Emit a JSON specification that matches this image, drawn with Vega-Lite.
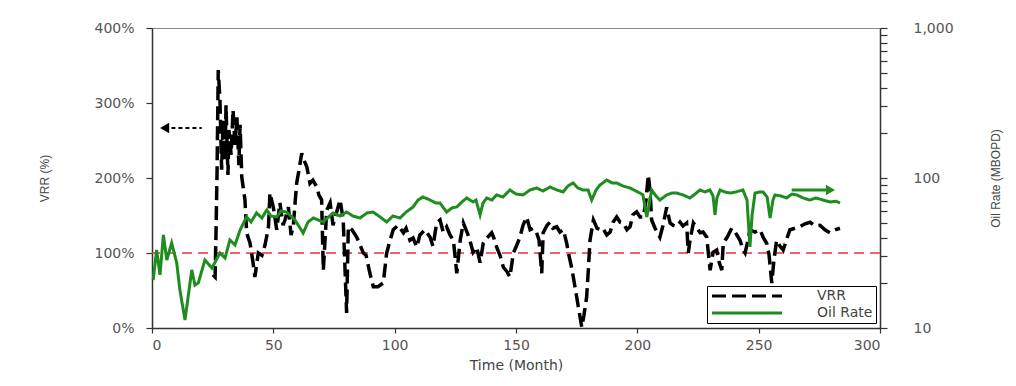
{
  "$schema": "https://vega.github.io/schema/vega-lite/v6.json",
  "width": 728,
  "height": 300,
  "autosize": {"type": "none"},
  "padding": {"left": 152, "top": 28, "right": 136, "bottom": 58},
  "background": "white",
  "config": {
    "font": "DejaVu Sans",
    "view": {"stroke": "#8a8a8a", "strokeWidth": 1},
    "axis": {"grid": false, "labelColor": "#555555", "titleColor": "#444444", "labelFont": "DejaVu Sans", "titleFont": "Liberation Sans", "labelFontSize": 14, "titleFontSize": 12, "titleFontWeight": "normal", "domainColor": "#333333", "tickColor": "#333333", "domainWidth": 1.5, "tickWidth": 1.2},
    "legend": {"orient": "none", "legendX": 555, "legendY": 258, "direction": "vertical", "columns": 1, "symbolType": "M-7,0H7", "symbolSize": 100, "symbolStrokeWidth": 3, "symbolOffset": 30, "labelOffset": 63, "labelAlign": "left", "labelFont": "DejaVu Sans", "labelFontSize": 14, "labelColor": "#444444", "strokeColor": "#000000", "fillColor": "#ffffff", "padding": 3, "rowPadding": 3}
  },
  "datasets": {
    "vrr": [
      {"t":25.1,"vrr":71,"series":"VRR"},{"t":26.0,"vrr":68,"series":"VRR"},{"t":26.4,"vrr":131,"series":"VRR"},{"t":26.8,"vrr":207,"series":"VRR"},{"t":27.3,"vrr":344,"series":"VRR"},{"t":28.0,"vrr":304,"series":"VRR"},{"t":28.7,"vrr":211,"series":"VRR"},{"t":29.3,"vrr":277,"series":"VRR"},{"t":30.1,"vrr":224,"series":"VRR"},{"t":30.5,"vrr":297,"series":"VRR"},{"t":31.3,"vrr":204,"series":"VRR"},{"t":31.7,"vrr":264,"series":"VRR"},{"t":32.6,"vrr":231,"series":"VRR"},{"t":33.4,"vrr":291,"series":"VRR"},{"t":34.2,"vrr":244,"series":"VRR"},{"t":35.0,"vrr":281,"series":"VRR"},{"t":35.8,"vrr":217,"series":"VRR"},{"t":36.3,"vrr":271,"series":"VRR"},{"t":37.0,"vrr":201,"series":"VRR"},{"t":38.3,"vrr":171,"series":"VRR"},{"t":39.0,"vrr":127,"series":"VRR"},{"t":40.4,"vrr":113,"series":"VRR"},{"t":41.6,"vrr":88,"series":"VRR"},{"t":42.4,"vrr":68,"series":"VRR"},{"t":43.8,"vrr":100,"series":"VRR"},{"t":45.3,"vrr":97,"series":"VRR"},{"t":46.6,"vrr":111,"series":"VRR"},{"t":48.0,"vrr":135,"series":"VRR"},{"t":48.6,"vrr":180,"series":"VRR"},{"t":50.0,"vrr":161,"series":"VRR"},{"t":51.4,"vrr":131,"series":"VRR"},{"t":52.7,"vrr":167,"series":"VRR"},{"t":54.0,"vrr":137,"series":"VRR"},{"t":54.8,"vrr":144,"series":"VRR"},{"t":56.2,"vrr":161,"series":"VRR"},{"t":57.3,"vrr":124,"series":"VRR"},{"t":58.2,"vrr":135,"series":"VRR"},{"t":59.6,"vrr":193,"series":"VRR"},{"t":60.6,"vrr":211,"series":"VRR"},{"t":61.7,"vrr":233,"series":"VRR"},{"t":62.6,"vrr":224,"series":"VRR"},{"t":63.8,"vrr":215,"series":"VRR"},{"t":65.1,"vrr":193,"series":"VRR"},{"t":66.3,"vrr":197,"series":"VRR"},{"t":67.9,"vrr":188,"series":"VRR"},{"t":68.8,"vrr":177,"series":"VRR"},{"t":69.9,"vrr":171,"series":"VRR"},{"t":70.6,"vrr":77,"series":"VRR"},{"t":72.0,"vrr":157,"series":"VRR"},{"t":73.4,"vrr":167,"series":"VRR"},{"t":74.6,"vrr":137,"series":"VRR"},{"t":75.8,"vrr":151,"series":"VRR"},{"t":77.5,"vrr":171,"series":"VRR"},{"t":78.8,"vrr":144,"series":"VRR"},{"t":80.2,"vrr":20,"series":"VRR"},{"t":80.9,"vrr":135,"series":"VRR"},{"t":82.4,"vrr":131,"series":"VRR"},{"t":84.4,"vrr":121,"series":"VRR"},{"t":85.7,"vrr":111,"series":"VRR"},{"t":87.1,"vrr":100,"series":"VRR"},{"t":88.2,"vrr":97,"series":"VRR"},{"t":89.8,"vrr":73,"series":"VRR"},{"t":91.2,"vrr":55,"series":"VRR"},{"t":93.1,"vrr":55,"series":"VRR"},{"t":95.3,"vrr":60,"series":"VRR"},{"t":96.7,"vrr":100,"series":"VRR"},{"t":98.1,"vrr":117,"series":"VRR"},{"t":99.4,"vrr":131,"series":"VRR"},{"t":101.4,"vrr":137,"series":"VRR"},{"t":103.6,"vrr":127,"series":"VRR"},{"t":104.7,"vrr":133,"series":"VRR"},{"t":106.3,"vrr":117,"series":"VRR"},{"t":107.6,"vrr":120,"series":"VRR"},{"t":109.1,"vrr":108,"series":"VRR"},{"t":110.4,"vrr":124,"series":"VRR"},{"t":112.5,"vrr":131,"series":"VRR"},{"t":114.6,"vrr":121,"series":"VRR"},{"t":115.8,"vrr":109,"series":"VRR"},{"t":117.3,"vrr":140,"series":"VRR"},{"t":118.7,"vrr":144,"series":"VRR"},{"t":120.0,"vrr":128,"series":"VRR"},{"t":121.4,"vrr":135,"series":"VRR"},{"t":122.8,"vrr":124,"series":"VRR"},{"t":124.2,"vrr":117,"series":"VRR"},{"t":125.6,"vrr":73,"series":"VRR"},{"t":127.0,"vrr":117,"series":"VRR"},{"t":128.3,"vrr":140,"series":"VRR"},{"t":129.8,"vrr":128,"series":"VRR"},{"t":131.0,"vrr":117,"series":"VRR"},{"t":132.3,"vrr":101,"series":"VRR"},{"t":133.8,"vrr":108,"series":"VRR"},{"t":135.2,"vrr":87,"series":"VRR"},{"t":136.5,"vrr":113,"series":"VRR"},{"t":138.0,"vrr":120,"series":"VRR"},{"t":140.0,"vrr":127,"series":"VRR"},{"t":140.9,"vrr":120,"series":"VRR"},{"t":142.0,"vrr":108,"series":"VRR"},{"t":143.4,"vrr":97,"series":"VRR"},{"t":144.8,"vrr":81,"series":"VRR"},{"t":146.3,"vrr":75,"series":"VRR"},{"t":147.5,"vrr":68,"series":"VRR"},{"t":148.9,"vrr":100,"series":"VRR"},{"t":150.4,"vrr":111,"series":"VRR"},{"t":151.6,"vrr":121,"series":"VRR"},{"t":152.9,"vrr":137,"series":"VRR"},{"t":154.4,"vrr":148,"series":"VRR"},{"t":155.8,"vrr":131,"series":"VRR"},{"t":157.0,"vrr":133,"series":"VRR"},{"t":158.5,"vrr":127,"series":"VRR"},{"t":159.5,"vrr":117,"series":"VRR"},{"t":160.6,"vrr":73,"series":"VRR"},{"t":161.2,"vrr":127,"series":"VRR"},{"t":162.8,"vrr":137,"series":"VRR"},{"t":164.0,"vrr":141,"series":"VRR"},{"t":165.2,"vrr":133,"series":"VRR"},{"t":166.8,"vrr":135,"series":"VRR"},{"t":168.1,"vrr":128,"series":"VRR"},{"t":169.5,"vrr":131,"series":"VRR"},{"t":170.9,"vrr":113,"series":"VRR"},{"t":171.8,"vrr":97,"series":"VRR"},{"t":172.9,"vrr":81,"series":"VRR"},{"t":174.3,"vrr":55,"series":"VRR"},{"t":175.7,"vrr":28,"series":"VRR"},{"t":177.1,"vrr":1,"series":"VRR"},{"t":178.0,"vrr":17,"series":"VRR"},{"t":179.1,"vrr":41,"series":"VRR"},{"t":179.8,"vrr":77,"series":"VRR"},{"t":180.5,"vrr":117,"series":"VRR"},{"t":181.9,"vrr":144,"series":"VRR"},{"t":183.4,"vrr":133,"series":"VRR"},{"t":184.6,"vrr":131,"series":"VRR"},{"t":185.8,"vrr":133,"series":"VRR"},{"t":187.4,"vrr":124,"series":"VRR"},{"t":188.8,"vrr":128,"series":"VRR"},{"t":190.0,"vrr":141,"series":"VRR"},{"t":191.5,"vrr":148,"series":"VRR"},{"t":192.9,"vrr":141,"series":"VRR"},{"t":194.2,"vrr":140,"series":"VRR"},{"t":195.7,"vrr":131,"series":"VRR"},{"t":197.0,"vrr":135,"series":"VRR"},{"t":198.2,"vrr":151,"series":"VRR"},{"t":199.7,"vrr":155,"series":"VRR"},{"t":201.1,"vrr":148,"series":"VRR"},{"t":202.5,"vrr":148,"series":"VRR"},{"t":203.6,"vrr":171,"series":"VRR"},{"t":204.5,"vrr":204,"series":"VRR"},{"t":205.2,"vrr":184,"series":"VRR"},{"t":205.9,"vrr":144,"series":"VRR"},{"t":207.3,"vrr":133,"series":"VRR"},{"t":209.3,"vrr":121,"series":"VRR"},{"t":210.6,"vrr":137,"series":"VRR"},{"t":212.1,"vrr":161,"series":"VRR"},{"t":213.5,"vrr":140,"series":"VRR"},{"t":214.7,"vrr":137,"series":"VRR"},{"t":216.2,"vrr":135,"series":"VRR"},{"t":217.6,"vrr":141,"series":"VRR"},{"t":218.8,"vrr":136,"series":"VRR"},{"t":220.3,"vrr":140,"series":"VRR"},{"t":221.0,"vrr":100,"series":"VRR"},{"t":221.7,"vrr":117,"series":"VRR"},{"t":223.1,"vrr":140,"series":"VRR"},{"t":224.6,"vrr":133,"series":"VRR"},{"t":225.9,"vrr":127,"series":"VRR"},{"t":227.1,"vrr":128,"series":"VRR"},{"t":228.6,"vrr":121,"series":"VRR"},{"t":230.0,"vrr":77,"series":"VRR"},{"t":231.2,"vrr":101,"series":"VRR"},{"t":232.7,"vrr":104,"series":"VRR"},{"t":233.7,"vrr":88,"series":"VRR"},{"t":234.8,"vrr":77,"series":"VRR"},{"t":235.4,"vrr":113,"series":"VRR"},{"t":237.0,"vrr":121,"series":"VRR"},{"t":238.9,"vrr":133,"series":"VRR"},{"t":240.3,"vrr":128,"series":"VRR"},{"t":242.3,"vrr":117,"series":"VRR"},{"t":243.6,"vrr":104,"series":"VRR"},{"t":244.4,"vrr":100,"series":"VRR"},{"t":245.6,"vrr":117,"series":"VRR"},{"t":246.4,"vrr":131,"series":"VRR"},{"t":248.5,"vrr":128,"series":"VRR"},{"t":250.6,"vrr":131,"series":"VRR"},{"t":251.8,"vrr":121,"series":"VRR"},{"t":253.3,"vrr":113,"series":"VRR"},{"t":254.3,"vrr":97,"series":"VRR"},{"t":255.4,"vrr":60,"series":"VRR"},{"t":256.3,"vrr":91,"series":"VRR"},{"t":257.4,"vrr":117,"series":"VRR"},{"t":258.8,"vrr":109,"series":"VRR"},{"t":260.1,"vrr":104,"series":"VRR"},{"t":261.7,"vrr":120,"series":"VRR"},{"t":262.9,"vrr":131,"series":"VRR"},{"t":265.0,"vrr":133,"series":"VRR"},{"t":267.0,"vrr":135,"series":"VRR"},{"t":269.1,"vrr":139,"series":"VRR"},{"t":271.2,"vrr":141,"series":"VRR"},{"t":273.2,"vrr":136,"series":"VRR"},{"t":275.3,"vrr":137,"series":"VRR"},{"t":277.3,"vrr":131,"series":"VRR"},{"t":279.4,"vrr":127,"series":"VRR"},{"t":281.5,"vrr":131,"series":"VRR"},{"t":283.5,"vrr":133,"series":"VRR"}
    ],
    "oil": [
      {"t":0.5,"oil":20.9,"series":"Oil Rate"},{"t":1.9,"oil":33.1,"series":"Oil Rate"},{"t":3.3,"oil":22.6,"series":"Oil Rate"},{"t":4.7,"oil":41.7,"series":"Oil Rate"},{"t":6.1,"oil":28.4,"series":"Oil Rate"},{"t":8.1,"oil":36.9,"series":"Oil Rate"},{"t":10.2,"oil":27.1,"series":"Oil Rate"},{"t":11.5,"oil":17.9,"series":"Oil Rate"},{"t":13.6,"oil":11.3,"series":"Oil Rate"},{"t":16.4,"oil":24.4,"series":"Oil Rate"},{"t":17.7,"oil":19.3,"series":"Oil Rate"},{"t":19.1,"oil":20.0,"series":"Oil Rate"},{"t":21.8,"oil":28.4,"series":"Oil Rate"},{"t":24.7,"oil":25.1,"series":"Oil Rate"},{"t":28.0,"oil":31.6,"series":"Oil Rate"},{"t":30.1,"oil":29.3,"series":"Oil Rate"},{"t":32.1,"oil":38.6,"series":"Oil Rate"},{"t":34.2,"oil":35.8,"series":"Oil Rate"},{"t":36.3,"oil":45.0,"series":"Oil Rate"},{"t":39.0,"oil":55.0,"series":"Oil Rate"},{"t":40.8,"oil":50.9,"series":"Oil Rate"},{"t":43.1,"oil":58.5,"series":"Oil Rate"},{"t":45.3,"oil":54.1,"series":"Oil Rate"},{"t":47.3,"oil":61.2,"series":"Oil Rate"},{"t":49.0,"oil":55.8,"series":"Oil Rate"},{"t":51.4,"oil":55.0,"series":"Oil Rate"},{"t":53.2,"oil":60.3,"series":"Oil Rate"},{"t":55.5,"oil":59.3,"series":"Oil Rate"},{"t":58.9,"oil":52.5,"series":"Oil Rate"},{"t":62.3,"oil":43.0,"series":"Oil Rate"},{"t":64.3,"oil":50.9,"series":"Oil Rate"},{"t":66.5,"oil":54.1,"series":"Oil Rate"},{"t":70.5,"oil":50.9,"series":"Oil Rate"},{"t":74.6,"oil":58.5,"series":"Oil Rate"},{"t":77.5,"oil":55.8,"series":"Oil Rate"},{"t":80.2,"oil":59.3,"series":"Oil Rate"},{"t":82.8,"oil":55.8,"series":"Oil Rate"},{"t":85.7,"oil":54.1,"series":"Oil Rate"},{"t":88.6,"oil":58.5,"series":"Oil Rate"},{"t":91.1,"oil":59.3,"series":"Oil Rate"},{"t":94.0,"oil":55.0,"series":"Oil Rate"},{"t":96.7,"oil":50.9,"series":"Oil Rate"},{"t":99.3,"oil":55.8,"series":"Oil Rate"},{"t":102.2,"oil":54.1,"series":"Oil Rate"},{"t":104.7,"oil":59.3,"series":"Oil Rate"},{"t":107.6,"oil":64.1,"series":"Oil Rate"},{"t":109.6,"oil":71.3,"series":"Oil Rate"},{"t":111.7,"oil":74.7,"series":"Oil Rate"},{"t":114.6,"oil":71.3,"series":"Oil Rate"},{"t":117.0,"oil":68.1,"series":"Oil Rate"},{"t":118.7,"oil":68.1,"series":"Oil Rate"},{"t":121.4,"oil":59.3,"series":"Oil Rate"},{"t":123.6,"oil":63.1,"series":"Oil Rate"},{"t":125.6,"oil":64.1,"series":"Oil Rate"},{"t":127.7,"oil":69.2,"series":"Oil Rate"},{"t":129.7,"oil":73.6,"series":"Oil Rate"},{"t":132.3,"oil":69.2,"series":"Oil Rate"},{"t":133.5,"oil":71.3,"series":"Oil Rate"},{"t":135.2,"oil":56.7,"series":"Oil Rate"},{"t":136.4,"oil":68.1,"series":"Oil Rate"},{"t":137.9,"oil":73.6,"series":"Oil Rate"},{"t":140.1,"oil":71.3,"series":"Oil Rate"},{"t":142.0,"oil":77.1,"series":"Oil Rate"},{"t":144.6,"oil":74.7,"series":"Oil Rate"},{"t":147.5,"oil":83.2,"series":"Oil Rate"},{"t":150.0,"oil":78.2,"series":"Oil Rate"},{"t":152.9,"oil":77.1,"series":"Oil Rate"},{"t":155.8,"oil":83.2,"series":"Oil Rate"},{"t":158.5,"oil":85.8,"series":"Oil Rate"},{"t":161.1,"oil":81.9,"series":"Oil Rate"},{"t":164.0,"oil":87.1,"series":"Oil Rate"},{"t":166.9,"oil":83.2,"series":"Oil Rate"},{"t":169.4,"oil":80.7,"series":"Oil Rate"},{"t":171.4,"oil":88.4,"series":"Oil Rate"},{"t":173.5,"oil":92.7,"series":"Oil Rate"},{"t":175.5,"oil":85.8,"series":"Oil Rate"},{"t":177.6,"oil":83.2,"series":"Oil Rate"},{"t":179.7,"oil":83.2,"series":"Oil Rate"},{"t":181.2,"oil":71.3,"series":"Oil Rate"},{"t":183.0,"oil":83.2,"series":"Oil Rate"},{"t":184.6,"oil":89.8,"series":"Oil Rate"},{"t":187.4,"oil":97.0,"series":"Oil Rate"},{"t":189.6,"oil":92.7,"series":"Oil Rate"},{"t":191.5,"oil":92.7,"series":"Oil Rate"},{"t":194.1,"oil":88.4,"series":"Oil Rate"},{"t":197.0,"oil":85.8,"series":"Oil Rate"},{"t":199.4,"oil":81.9,"series":"Oil Rate"},{"t":201.1,"oil":79.4,"series":"Oil Rate"},{"t":202.3,"oil":77.1,"series":"Oil Rate"},{"t":203.9,"oil":55.0,"series":"Oil Rate"},{"t":205.2,"oil":71.3,"series":"Oil Rate"},{"t":205.9,"oil":83.2,"series":"Oil Rate"},{"t":207.7,"oil":75.9,"series":"Oil Rate"},{"t":209.3,"oil":71.3,"series":"Oil Rate"},{"t":212.1,"oil":77.1,"series":"Oil Rate"},{"t":214.3,"oil":79.4,"series":"Oil Rate"},{"t":216.2,"oil":79.4,"series":"Oil Rate"},{"t":218.8,"oil":77.1,"series":"Oil Rate"},{"t":221.7,"oil":73.6,"series":"Oil Rate"},{"t":223.8,"oil":78.2,"series":"Oil Rate"},{"t":225.8,"oil":83.2,"series":"Oil Rate"},{"t":227.9,"oil":80.7,"series":"Oil Rate"},{"t":229.9,"oil":83.2,"series":"Oil Rate"},{"t":231.2,"oil":75.9,"series":"Oil Rate"},{"t":232.0,"oil":56.7,"series":"Oil Rate"},{"t":232.8,"oil":73.6,"series":"Oil Rate"},{"t":234.1,"oil":83.2,"series":"Oil Rate"},{"t":236.1,"oil":80.7,"series":"Oil Rate"},{"t":238.2,"oil":79.4,"series":"Oil Rate"},{"t":240.6,"oil":80.7,"series":"Oil Rate"},{"t":243.5,"oil":83.2,"series":"Oil Rate"},{"t":245.2,"oil":71.3,"series":"Oil Rate"},{"t":246.4,"oil":34.7,"series":"Oil Rate"},{"t":247.3,"oil":56.7,"series":"Oil Rate"},{"t":248.5,"oil":79.4,"series":"Oil Rate"},{"t":250.6,"oil":80.7,"series":"Oil Rate"},{"t":251.8,"oil":80.7,"series":"Oil Rate"},{"t":253.5,"oil":74.7,"series":"Oil Rate"},{"t":254.7,"oil":54.1,"series":"Oil Rate"},{"t":255.9,"oil":71.3,"series":"Oil Rate"},{"t":256.7,"oil":77.1,"series":"Oil Rate"},{"t":259.2,"oil":75.9,"series":"Oil Rate"},{"t":261.5,"oil":73.6,"series":"Oil Rate"},{"t":263.7,"oil":78.2,"series":"Oil Rate"},{"t":265.7,"oil":77.1,"series":"Oil Rate"},{"t":268.3,"oil":73.6,"series":"Oil Rate"},{"t":271.1,"oil":71.3,"series":"Oil Rate"},{"t":273.6,"oil":73.6,"series":"Oil Rate"},{"t":276.5,"oil":71.3,"series":"Oil Rate"},{"t":279.4,"oil":69.2,"series":"Oil Rate"},{"t":281.9,"oil":70.0,"series":"Oil Rate"},{"t":283.5,"oil":68.1,"series":"Oil Rate"}
    ]
  },
  "layer": [
    {
      "layer": [
        {
          "data": {"values": [{}]},
          "mark": {"type": "rule", "color": "#e8323c", "strokeWidth": 1.5, "strokeDash": [10, 6]},
          "encoding": {"y": {"datum": 100, "type": "quantitative"}}
        },
        {
          "data": {"name": "vrr"},
          "mark": {"type": "line", "strokeWidth": 3.5, "strokeCap": "butt", "strokeJoin": "miter"},
          "encoding": {
            "x": {"field": "t", "type": "quantitative", "scale": {"domain": [0, 300], "nice": false}, "axis": {"values": [0, 50, 100, 150, 200, 250, 300], "title": "Time (Month)", "tickSize": 5, "labelPadding": 5, "titlePadding": 6, "titleFont": "DejaVu Sans", "titleFontSize": 14}},
            "y": {"field": "vrr", "type": "quantitative", "scale": {"domain": [0, 400], "nice": false}, "axis": {"values": [0, 100, 200, 300, 400], "labelExpr": "datum.value + '%'", "title": "VRR (%)", "tickSize": 6, "labelPadding": 12, "titlePadding": 42}},
            "color": {"field": "series", "type": "nominal", "scale": {"domain": ["VRR", "Oil Rate"], "range": ["#000000", "#1e8c1e"]}, "legend": {"title": null}},
            "strokeDash": {"field": "series", "type": "nominal", "scale": {"domain": ["VRR", "Oil Rate"], "range": [[14, 6], [1, 0]]}, "legend": {"title": null}}
          }
        },
        {
          "data": {"values": [{}]},
          "mark": {"type": "rule", "color": "#000000", "strokeWidth": 2, "strokeDash": [4, 3]},
          "encoding": {"x": {"datum": 8, "type": "quantitative"}, "x2": {"datum": 20.5}, "y": {"datum": 266.7, "type": "quantitative"}}
        },
        {
          "data": {"values": [{}]},
          "mark": {"type": "point", "shape": "triangle-left", "filled": true, "color": "#000000", "size": 110, "opacity": 1},
          "encoding": {"x": {"datum": 5.2, "type": "quantitative"}, "y": {"datum": 266.7, "type": "quantitative"}}
        }
      ]
    },
    {
      "layer": [
        {
          "data": {"name": "oil"},
          "mark": {"type": "line", "strokeWidth": 3},
          "encoding": {
            "x": {"field": "t", "type": "quantitative"},
            "y": {"field": "oil", "type": "quantitative", "scale": {"type": "log", "domain": [10, 1000], "nice": false}, "axis": {"orient": "right", "values": [10, 20, 30, 40, 50, 60, 70, 80, 90, 100, 200, 300, 400, 500, 600, 700, 800, 900, 1000], "labelExpr": "datum.value == 10 || datum.value == 100 || datum.value == 1000 ? format(datum.value, ',') : ''", "labelOverlap": false, "tickSize": 7, "labelPadding": 26, "title": "Oil Rate (MBOPD)", "titleAngle": 270, "titlePadding": 49}},
            "color": {"field": "series", "type": "nominal", "legend": {"title": null}},
            "strokeDash": {"field": "series", "type": "nominal", "legend": {"title": null}}
          }
        },
        {
          "data": {"values": [{}]},
          "mark": {"type": "rule", "color": "#1e8c1e", "strokeWidth": 3},
          "encoding": {"x": {"datum": 263.6, "type": "quantitative"}, "x2": {"datum": 278}, "y": {"datum": 83.2, "type": "quantitative"}}
        },
        {
          "data": {"values": [{}]},
          "mark": {"type": "point", "shape": "triangle-right", "filled": true, "color": "#1e8c1e", "size": 110, "opacity": 1},
          "encoding": {"x": {"datum": 279.6, "type": "quantitative"}, "y": {"datum": 83.2, "type": "quantitative"}}
        }
      ]
    }
  ],
  "resolve": {"scale": {"y": "independent"}}
}
